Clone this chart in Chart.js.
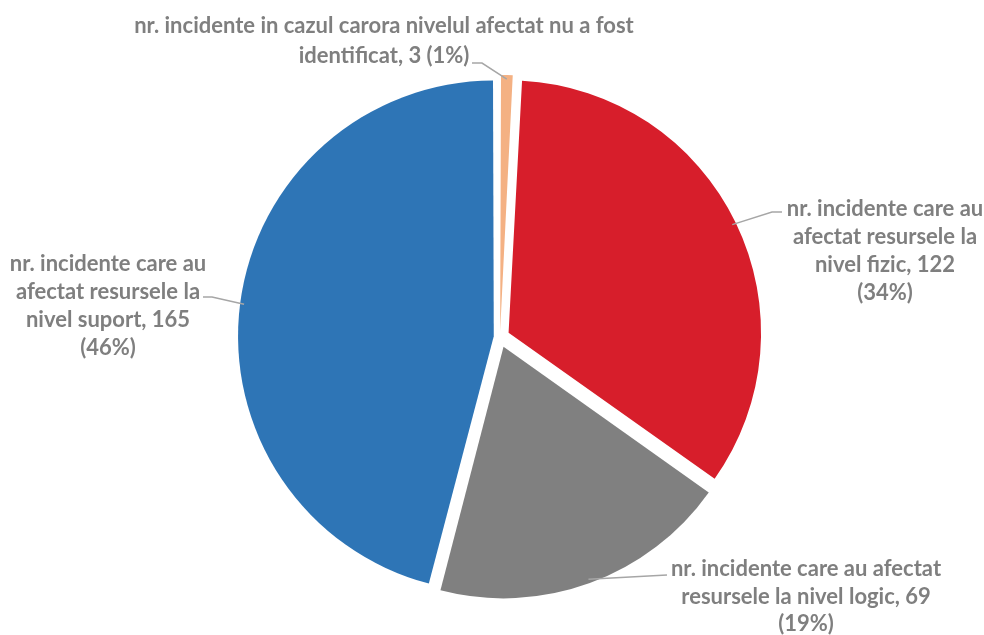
<!DOCTYPE html>
<html>
<head>
<meta charset="utf-8">
<title>Incidente pe niveluri</title>
<script src="https://cdn.jsdelivr.net/npm/chart.js@4.4.1/dist/chart.umd.min.js"></script>
<style>
    html, body { margin: 0; padding: 0; background: #fff; }
    #wrap { width: 984px; height: 635px; position: relative; }
</style>
</head>
<body>
<div id="wrap"><canvas id="pieChart"></canvas></div>
<script>
const categories = [
    'nr. incidente in cazul carora nivelul afectat nu a fost identificat',
    'nr. incidente care au afectat resursele la nivel fizic',
    'nr. incidente care au afectat resursele la nivel logic',
    'nr. incidente care au afectat resursele la nivel suport'
];
const counts = [3, 122, 69, 165];
const sliceColors = ['#F4B183', '#D71E2B', '#808080', '#2E75B6'];

// label placement: text centre, first line y, words per line, leader bend points
const labelLayout = [
    { x: 384, y: 26, lh: 30, words: [10, 3], leader: [[482, 63], [472, 63]] },
    { x: 885, y: 209, lh: 28, words: [4, 3, 3, 1], leader: [[772, 212], [782, 212]] },
    { x: 806, y: 569, lh: 27.5, words: [5, 5, 1], leader: [[667, 575]] },
    { x: 108, y: 264, lh: 28, words: [4, 3, 3, 1], leader: [[212, 297], [203, 297]] }
];
const labelFont = 'bold 22px Lato';
const labelColor = '#7f7f7f';
const explode = 11;   // how far every slice is pulled out from the centre, px

const total = counts.reduce((a, b) => a + b, 0);

// Chart.js moves an arc by offset/4 * (1 + fix); undo that so each slice moves the same distance
function sliceOffset(c) {
    const circ = c.dataset.data[c.dataIndex] / total * Math.PI * 2;
    const fix = 1 - Math.sin(Math.min(Math.PI, circ));
    return explode * 4 / (1 + fix);
}

function splitLines(text, counts) {
    const words = text.split(' ');
    const lines = [];
    let k = 0;
    counts.forEach(function(n) {
        lines.push(words.slice(k, k + n).join(' '));
        k += n;
    });
    return lines;
}

const leaderLabels = {
    id: 'leaderLabels',
    afterDatasetsDraw(chart) {
        const ctx = chart.ctx;
        const meta = chart.getDatasetMeta(0);
        ctx.save();
        ctx.font = labelFont;
        ctx.textAlign = 'center';
        ctx.textBaseline = 'middle';
        meta.data.forEach(function(arc, i) {
            const pos = labelLayout[i];
            const p = arc.getProps(['x', 'y', 'startAngle', 'endAngle', 'outerRadius'], true);
            const mid = (p.startAngle + p.endAngle) / 2;
            const ox = p.x + Math.cos(mid) * explode;
            const oy = p.y + Math.sin(mid) * explode;
            const ax = ox + Math.cos(mid) * (p.outerRadius - 4);
            const ay = oy + Math.sin(mid) * (p.outerRadius - 4);

            ctx.strokeStyle = '#a6a6a6';
            ctx.lineWidth = 1.5;
            ctx.beginPath();
            ctx.moveTo(ax, ay);
            pos.leader.forEach(pt => ctx.lineTo(pt[0], pt[1]));
            ctx.stroke();

            const pct = Math.round(counts[i] / total * 100);
            const text = categories[i] + ', ' + counts[i] + ' (' + pct + '%)';
            ctx.fillStyle = labelColor;
            splitLines(text, pos.words).forEach(function(ln, k) {
                ctx.fillText(ln, pos.x, pos.y + k * pos.lh);
            });
        });
        ctx.restore();
    }
};

new Chart(document.getElementById('pieChart'), {
    type: 'pie',
    data: {
        labels: categories,
        datasets: [{
            data: counts,
            backgroundColor: sliceColors,
            borderWidth: 0,
            offset: sliceOffset,
            radius: 251
        }]
    },
    options: {
        responsive: true,
        maintainAspectRatio: false,
        animation: false,
        layout: {
            padding: { left: 16, top: 39, right: 0, bottom: 0 }
        },
        plugins: {
            legend: { display: false },
            tooltip: { enabled: false }
        }
    },
    plugins: [leaderLabels]
});
</script>
</body>
</html>
